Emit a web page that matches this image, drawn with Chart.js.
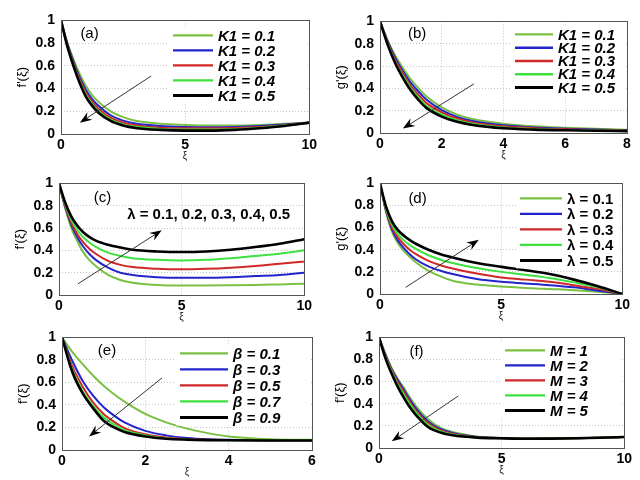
<!DOCTYPE html>
<html lang="en">
<head>
    <meta charset="UTF-8">
    <title>Velocity profiles (a)-(f)</title>
    <script src="https://cdn.jsdelivr.net/npm/chart.js"></script>
    <style>
        body {
            margin: 0;
            width: 640px;
            height: 480px;
            background: #ffffff;
            position: relative;
            overflow: hidden;
        }

        .panel {
            position: absolute;
        }
    </style>
</head>
<body>
    <div class="panel" id="pa"><canvas></canvas></div>
    <div class="panel" id="pb"><canvas></canvas></div>
    <div class="panel" id="pc"><canvas></canvas></div>
    <div class="panel" id="pd"><canvas></canvas></div>
    <div class="panel" id="pe"><canvas></canvas></div>
    <div class="panel" id="pf"><canvas></canvas></div>

    <script>
        // ---- data ----
        const yTicks = [0, 0.2, 0.4, 0.6, 0.8, 1];

        // (a) f'(xi) for K1
        const xiA = [0, 0.25, 0.5, 0.75, 1, 1.25, 1.5, 2, 2.5, 3, 4, 5, 6, 7, 8, 9, 10];
        const aK1 = [1, 0.81, 0.66, 0.53, 0.425, 0.345, 0.285, 0.2, 0.148, 0.117, 0.09, 0.08, 0.075, 0.075, 0.08, 0.09, 0.1];
        const aK2 = [1, 0.8, 0.64, 0.5, 0.39, 0.31, 0.25, 0.165, 0.118, 0.092, 0.07, 0.062, 0.06, 0.062, 0.07, 0.083, 0.1];
        const aK3 = [1, 0.79, 0.625, 0.48, 0.365, 0.285, 0.225, 0.145, 0.1, 0.077, 0.055, 0.05, 0.05, 0.053, 0.062, 0.078, 0.1];
        const aK4 = [1, 0.78, 0.61, 0.46, 0.345, 0.265, 0.205, 0.127, 0.085, 0.063, 0.045, 0.04, 0.04, 0.045, 0.056, 0.074, 0.1];
        const aK5 = [1, 0.775, 0.6, 0.45, 0.33, 0.25, 0.19, 0.115, 0.075, 0.053, 0.036, 0.03, 0.03, 0.036, 0.05, 0.07, 0.1];
        const legendA = ['K1 = 0.1', 'K1 = 0.2', 'K1 = 0.3', 'K1 = 0.4', 'K1 = 0.5'];
        const xTicksA = [0, 5, 10];

        // (b) g'(xi) for K1
        const xiB = [0, 0.25, 0.5, 0.75, 1, 1.25, 1.5, 2, 2.5, 3, 4, 5, 6, 7, 8];
        const bK1 = [1, 0.83, 0.69, 0.58, 0.48, 0.4, 0.33, 0.23, 0.165, 0.125, 0.083, 0.06, 0.047, 0.037, 0.03];
        const bK2 = [1, 0.82, 0.67, 0.55, 0.45, 0.37, 0.3, 0.205, 0.145, 0.107, 0.07, 0.05, 0.039, 0.031, 0.025];
        const bK3 = [1, 0.81, 0.65, 0.53, 0.42, 0.34, 0.27, 0.185, 0.13, 0.095, 0.06, 0.043, 0.034, 0.027, 0.022];
        const bK4 = [1, 0.8, 0.63, 0.51, 0.4, 0.315, 0.245, 0.165, 0.115, 0.083, 0.05, 0.036, 0.028, 0.023, 0.019];
        const bK5 = [1, 0.79, 0.62, 0.49, 0.38, 0.295, 0.225, 0.147, 0.1, 0.072, 0.042, 0.03, 0.024, 0.02, 0.017];
        const legendB = ['K1 = 0.1', 'K1 = 0.2', 'K1 = 0.3', 'K1 = 0.4', 'K1 = 0.5'];
        const xTicksB = [0, 2, 4, 6, 8];

        // (c) f'(xi) for lambda
        const xiC = [0, 0.25, 0.5, 0.75, 1, 1.25, 1.5, 2, 2.5, 3, 4, 5, 6, 7, 8, 9, 10];
        const cL1 = [1, 0.78, 0.6, 0.48, 0.38, 0.31, 0.26, 0.18, 0.135, 0.11, 0.09, 0.085, 0.085, 0.087, 0.09, 0.095, 0.1];
        const cL2 = [1, 0.79, 0.63, 0.515, 0.43, 0.365, 0.315, 0.245, 0.2, 0.18, 0.16, 0.155, 0.155, 0.16, 0.17, 0.18, 0.2];
        const cL3 = [1, 0.8, 0.65, 0.545, 0.47, 0.413, 0.37, 0.305, 0.27, 0.25, 0.235, 0.23, 0.235, 0.245, 0.26, 0.28, 0.3];
        const cL4 = [1, 0.815, 0.675, 0.58, 0.515, 0.468, 0.432, 0.38, 0.35, 0.33, 0.315, 0.31, 0.315, 0.33, 0.35, 0.37, 0.4];
        const cL5 = [1, 0.83, 0.705, 0.62, 0.56, 0.518, 0.487, 0.45, 0.425, 0.405, 0.39, 0.385, 0.39, 0.405, 0.43, 0.46, 0.5];
        const xTicksC = [0, 5, 10];

        // (d) g'(xi) for lambda
        const xiD = [0, 0.25, 0.5, 0.75, 1, 1.25, 1.5, 2, 2.5, 3, 4, 5, 6, 7, 8, 9, 10];
        const dL1 = [1, 0.74, 0.56, 0.455, 0.385, 0.33, 0.283, 0.21, 0.16, 0.12, 0.085, 0.067, 0.055, 0.045, 0.035, 0.02, 0];
        const dL2 = [1, 0.75, 0.58, 0.48, 0.41, 0.355, 0.31, 0.25, 0.21, 0.18, 0.135, 0.11, 0.095, 0.08, 0.06, 0.03, 0];
        const dL3 = [1, 0.76, 0.6, 0.51, 0.445, 0.395, 0.358, 0.3, 0.26, 0.23, 0.185, 0.15, 0.13, 0.11, 0.08, 0.045, 0];
        const dL4 = [1, 0.77, 0.625, 0.54, 0.482, 0.44, 0.405, 0.35, 0.31, 0.28, 0.235, 0.2, 0.175, 0.145, 0.105, 0.06, 0];
        const dL5 = [1, 0.79, 0.655, 0.575, 0.525, 0.485, 0.452, 0.4, 0.36, 0.33, 0.28, 0.245, 0.215, 0.18, 0.13, 0.07, 0];
        const legendD = ['λ = 0.1', 'λ = 0.2', 'λ = 0.3', 'λ = 0.4', 'λ = 0.5'];
        const xTicksD = [0, 5, 10];

        // (e) f'(xi) for beta
        const xiE = [0, 0.25, 0.5, 0.75, 1, 1.25, 1.5, 2, 2.5, 3, 3.5, 4, 5, 6];
        const eB1 = [1, 0.87, 0.76, 0.66, 0.57, 0.495, 0.43, 0.32, 0.245, 0.19, 0.15, 0.12, 0.095, 0.09];
        const eB3 = [1, 0.79, 0.61, 0.48, 0.38, 0.305, 0.245, 0.17, 0.13, 0.107, 0.096, 0.091, 0.087, 0.087];
        const eB5 = [1, 0.74, 0.56, 0.42, 0.32, 0.25, 0.195, 0.14, 0.11, 0.097, 0.09, 0.088, 0.086, 0.086];
        const eB7 = [1, 0.71, 0.52, 0.39, 0.29, 0.225, 0.175, 0.13, 0.105, 0.094, 0.089, 0.087, 0.086, 0.086];
        const eB9 = [1, 0.69, 0.5, 0.37, 0.26, 0.2, 0.16, 0.12, 0.1, 0.092, 0.088, 0.086, 0.085, 0.085];
        const legendE = ['β = 0.1', 'β = 0.3', 'β = 0.5', 'β = 0.7', 'β = 0.9'];
        const xTicksE = [0, 2, 4, 6];

        // (f) f'(xi) for M
        const xiF = [0, 0.25, 0.5, 0.75, 1, 1.25, 1.5, 2, 2.5, 3, 4, 5, 6, 7, 8, 9, 10];
        const fM1 = [1, 0.86, 0.73, 0.63, 0.55, 0.46, 0.38, 0.26, 0.185, 0.145, 0.105, 0.09, 0.086, 0.085, 0.088, 0.093, 0.1];
        const fM2 = [1, 0.85, 0.72, 0.62, 0.53, 0.44, 0.36, 0.24, 0.172, 0.137, 0.1, 0.089, 0.085, 0.085, 0.088, 0.093, 0.1];
        const fM3 = [1, 0.84, 0.71, 0.6, 0.51, 0.42, 0.34, 0.225, 0.162, 0.13, 0.098, 0.089, 0.085, 0.085, 0.088, 0.093, 0.1];
        const fM4 = [1, 0.83, 0.7, 0.58, 0.49, 0.4, 0.325, 0.21, 0.152, 0.122, 0.096, 0.088, 0.085, 0.085, 0.088, 0.093, 0.1];
        const fM5 = [1, 0.82, 0.68, 0.56, 0.46, 0.37, 0.3, 0.19, 0.14, 0.115, 0.094, 0.088, 0.084, 0.085, 0.088, 0.093, 0.1];
        const legendF = ['M = 1', 'M = 2', 'M = 3', 'M = 4', 'M = 5'];
        const xTicksF = [0, 5, 10];

        const lineColors = ['#7ac143', '#2424cc', '#d02828', '#3ee23e', '#000000'];
        const lineWidths = [2, 2, 2, 2, 2.6];
        const fontFamily = "'Liberation Sans', Arial, sans-serif";

        // arrow drawn with a filled, notched head (like matlab annotation arrows)
        function drawArrow(ctx, x0, y0, x1, y1) {
            const a = Math.atan2(y1 - y0, x1 - x0);
            const c = Math.cos(a), s = Math.sin(a);
            ctx.save();
            ctx.strokeStyle = '#333';
            ctx.lineWidth = 1;
            ctx.beginPath();
            ctx.moveTo(x0, y0);
            ctx.lineTo(x1 - 7 * c, y1 - 7 * s);
            ctx.stroke();
            ctx.fillStyle = '#000';
            ctx.beginPath();
            ctx.moveTo(x1, y1);
            ctx.lineTo(x1 - 12 * c + 4.5 * s, y1 - 12 * s - 4.5 * c);
            ctx.lineTo(x1 - 8 * c, y1 - 8 * s);
            ctx.lineTo(x1 - 12 * c - 4.5 * s, y1 - 12 * s + 4.5 * c);
            ctx.closePath();
            ctx.fill();
            ctx.restore();
        }

        const decor = {
            id: 'decor',
            afterDatasetsDraw(chart, args, opts) {
                const ctx = chart.ctx;
                const area = chart.chartArea;
                const xs = chart.scales.x, ys = chart.scales.y;
                ctx.save();

                // axes box
                ctx.strokeStyle = '#555';
                ctx.lineWidth = 1;
                ctx.strokeRect(Math.round(area.left) + 0.5, Math.round(area.top) + 0.5,
                    Math.round(area.right - area.left), Math.round(area.bottom - area.top));

                // panel tag
                ctx.fillStyle = '#000';
                ctx.font = '15px ' + fontFamily;
                ctx.textAlign = 'center';
                ctx.textBaseline = 'middle';
                ctx.fillText(opts.tag[0], xs.getPixelForValue(opts.tag[1]), ys.getPixelForValue(opts.tag[2]));

                // arrow
                const ar = opts.arrow;
                drawArrow(ctx, xs.getPixelForValue(ar[0]), ys.getPixelForValue(ar[1]),
                    xs.getPixelForValue(ar[2]), ys.getPixelForValue(ar[3]));

                // free text note
                if (opts.note) {
                    ctx.font = 'bold 15px ' + fontFamily;
                    ctx.textAlign = 'left';
                    ctx.fillText(opts.note[0], xs.getPixelForValue(opts.note[1]), ys.getPixelForValue(opts.note[2]));
                }

                // legend
                const lg = opts.legend;
                if (lg) {
                    const n = lg.labels.length;
                    const x0 = area.left + lg.x, y0 = area.top + lg.y;
                    ctx.fillStyle = '#fff';
                    ctx.fillRect(x0 - 4, y0 - 8, area.right - x0 + 2, (n - 1) * lg.dy + 16);
                    ctx.font = lg.font + ' ' + fontFamily;
                    ctx.textAlign = 'left';
                    ctx.textBaseline = 'middle';
                    lg.labels.forEach((t, i) => {
                        const y = y0 + i * lg.dy;
                        ctx.strokeStyle = lineColors[i];
                        ctx.lineWidth = lineWidths[i] + 0.4;
                        ctx.beginPath();
                        ctx.moveTo(x0, y);
                        ctx.lineTo(x0 + lg.len, y);
                        ctx.stroke();
                        ctx.fillStyle = '#000';
                        ctx.fillText(t, x0 + lg.len + 5, y + 1);
                    });
                }
                ctx.restore();
            }
        };

        function makePanel(id, box, xi, series, xTicks, xMax, yTitle, deco) {
            const wrap = document.getElementById(id);
            const padL = 52, padT = 6, padR = 8, axisH = 28;
            const w = box.r - box.l + padL + padR;
            const h = box.b - box.t + padT + axisH;
            wrap.style.left = (box.l - padL) + 'px';
            wrap.style.top = (box.t - padT) + 'px';
            const canvas = wrap.querySelector('canvas');
            canvas.width = w;
            canvas.height = h;
            canvas.style.width = w + 'px';
            canvas.style.height = h + 'px';

            const datasets = series.map((ys, i) => ({
                data: xi.map((x, k) => ({ x: x, y: ys[k] })),
                borderColor: lineColors[i],
                borderWidth: lineWidths[i],
                pointRadius: 0,
                cubicInterpolationMode: 'monotone',
                fill: false,
                order: series.length - i
            }));

            return new Chart(canvas, {
                type: 'line',
                data: { datasets: datasets },
                options: {
                    responsive: false,
                    animation: false,
                    events: [],
                    layout: { padding: { top: padT, right: padR, left: 0, bottom: 0 } },
                    plugins: {
                        legend: { display: false },
                        tooltip: { enabled: false },
                        decor: deco
                    },
                    scales: {
                        x: {
                            type: 'linear',
                            min: 0,
                            max: xMax,
                            afterBuildTicks: s => { s.ticks = xTicks.map(v => ({ value: v })); },
                            afterFit: s => { s.height = axisH; },
                            grid: { color: '#c4c4c4', drawTicks: false },
                            border: { display: false, dash: [1, 2] },
                            ticks: { padding: 3, color: '#000', maxRotation: 0, callback: v => String(v), font: { family: fontFamily, size: 14, weight: 'bold' } },
                            title: { display: true, text: 'ξ', color: '#222', padding: 0, font: { family: fontFamily, size: 10 } }
                        },
                        y: {
                            min: 0,
                            max: 1,
                            afterBuildTicks: s => { s.ticks = yTicks.map(v => ({ value: v })); },
                            afterFit: s => { s.width = padL; },
                            grid: { color: '#c4c4c4', drawTicks: false },
                            border: { display: false, dash: [1, 2] },
                            ticks: { padding: 6, color: '#000', callback: v => String(v), font: { family: fontFamily, size: 14, weight: 'bold' } },
                            title: { display: true, text: yTitle, color: '#000', padding: { top: 6, bottom: 0 }, font: { family: fontFamily, size: 13 } }
                        }
                    }
                },
                plugins: [decor]
            });
        }

        makePanel('pa', { l: 61, r: 312, t: 12, b: 134 }, xiA, [aK1, aK2, aK3, aK4, aK5], xTicksA, 10, "f'(ξ)", {
            tag: ['(a)', 1.15, 0.885],
            arrow: [3.63, 0.51, 0.76, 0.1],
            legend: { labels: legendA, x: 112, y: 15, dy: 15, len: 40, font: 'italic bold 15px' }
        });

        makePanel('pb', { l: 380, r: 627, t: 13, b: 133 }, xiB, [bK1, bK2, bK3, bK4, bK5], xTicksB, 8, "g'(ξ)", {
            tag: ['(b)', 1.2, 0.89],
            arrow: [3.04, 0.44, 0.74, 0.04],
            legend: { labels: legendB, x: 135, y: 13, dy: 13.3, len: 38, font: 'italic bold 15px' }
        });

        makePanel('pc', { l: 59, r: 307, t: 175, b: 295 }, xiC, [cL1, cL2, cL3, cL4, cL5], xTicksC, 10, "f'(ξ)", {
            tag: ['(c)', 1.77, 0.87],
            arrow: [0.77, 0.1, 4.19, 0.58],
            note: ['λ = 0.1, 0.2, 0.3, 0.4, 0.5', 2.78, 0.72]
        });

        makePanel('pd', { l: 380, r: 625, t: 175, b: 294 }, xiD, [dL1, dL2, dL3, dL4, dL5], xTicksD, 10, "g'(ξ)", {
            tag: ['(d)', 1.55, 0.86],
            arrow: [1.06, 0.06, 4.08, 0.49],
            legend: { labels: legendD, x: 140, y: 15, dy: 15.5, len: 42, font: 'bold 15px' }
        });

        makePanel('pe', { l: 62, r: 312, t: 329, b: 450 }, xiE, [eB1, eB3, eB5, eB7, eB9], xTicksE, 6, "f'(ξ)", {
            tag: ['(e)', 1.08, 0.88],
            arrow: [2.4, 0.64, 0.65, 0.12],
            legend: { labels: legendE, x: 118, y: 16, dy: 16, len: 48, font: 'italic bold 15px' }
        });

        makePanel('pf', { l: 379, r: 627, t: 329, b: 448 }, xiF, [fM1, fM2, fM3, fM4, fM5], xTicksF, 10, "f'(ξ)", {
            tag: ['(f)', 1.53, 0.87],
            arrow: [3.23, 0.47, 0.52, 0.06],
            legend: { labels: legendF, x: 126, y: 13, dy: 15, len: 40, font: 'italic bold 15px' }
        });
    </script>
</body>
</html>
